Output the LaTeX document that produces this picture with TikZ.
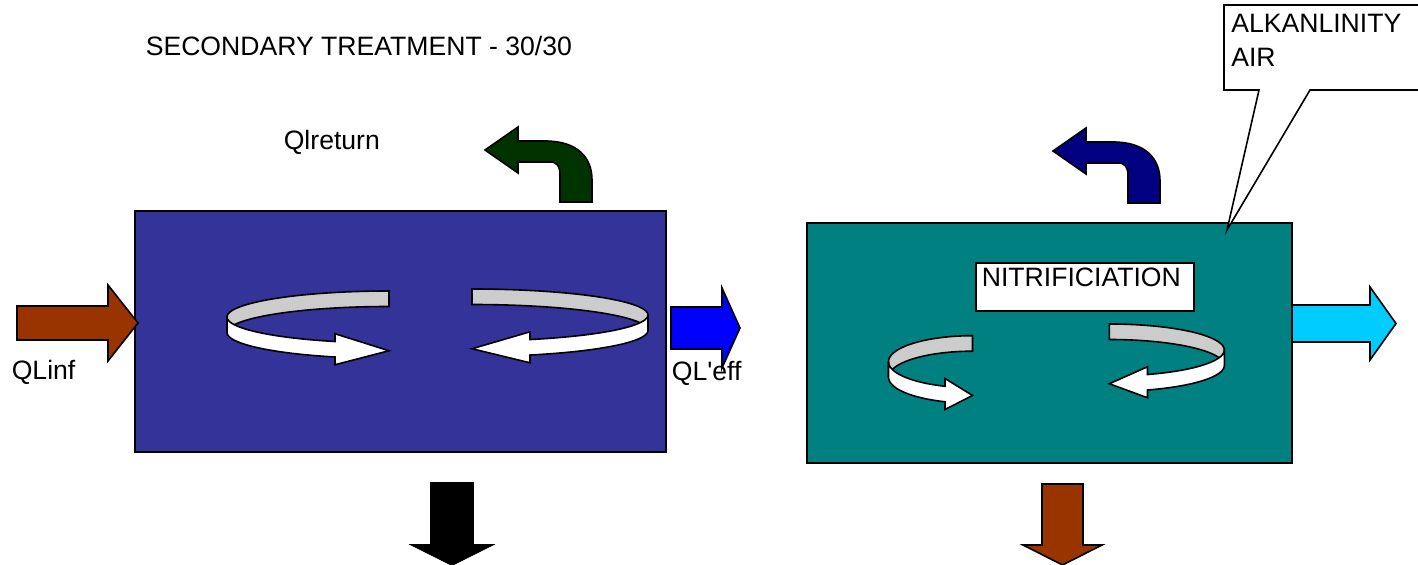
\documentclass[tikz,border=0pt]{standalone}
\usepackage{fontspec}
\setmainfont{Liberation Sans}
% same face without TeX input ligatures, so ' stays a straight quote
\newfontfamily\plainsans{Liberation Sans}

\definecolor{tankblue}{HTML}{333399}
\definecolor{tankteal}{HTML}{008080}
\definecolor{rust}{HTML}{993300}
\definecolor{darkgreen}{HTML}{003300}
\definecolor{navyblue}{HTML}{000080}
\definecolor{flowblue}{HTML}{0000FF}
\definecolor{flowcyan}{HTML}{00CCFF}
\definecolor{ribbongray}{HTML}{CCCCCC}

% ribbon geometry shared by all mixing swirls
\def\swB{26}      % half height of the ellipse
\def\swH{15.5}    % ribbon width
\def\swHead{15.5} % half height of the arrow head

% mixing swirl: #1 centre x, #2 centre y (top edge), #3 half width,
% #4 side (-1 turns round the left, +1 round the right), #5 x of the head base
\newcommand\swirlband[5]{%
  \pgfmathsetmacro\swCx{#1}%
  \pgfmathsetmacro\swCy{#2}%
  \pgfmathsetmacro\swA{#3}%
  \pgfmathsetmacro\swS{#4}%
  \pgfmathsetmacro\swXh{#5}%
  \pgfmathsetmacro\swUh{180-asin((\swXh-\swCx)/(\swS*\swA))}%
  \pgfmathsetmacro\swYh{\swCy-\swB*cos(\swUh)}%
  \filldraw[ribbonback]
    plot[domain=0:90, samples=40] ({\swCx+\swS*\swA*sin(\x)}, {\swCy-\swB*cos(\x)})
    -- plot[domain=90:0, samples=40] ({\swCx+\swS*\swA*sin(\x)}, {\swCy-\swB*cos(\x)+\swH})
    -- cycle;
  \filldraw[ribbonfront]
    plot[domain=90:\swUh, samples=30] ({\swCx+\swS*\swA*sin(\x)}, {\swCy-\swB*cos(\x)})
    -- (\swXh, {\swYh+\swH/2-\swHead})
    -- (\swCx, {\swCy+\swB+\swH/2})
    -- (\swXh, {\swYh+\swH/2+\swHead})
    -- plot[domain=\swUh:90, samples=30] ({\swCx+\swS*\swA*sin(\x)}, {\swCy-\swB*cos(\x)+\swH})
    -- cycle;
}

% bent return arrow: #1 fill colour, #2 shift
\newcommand\returnarrow[2]{%
  \filldraw[blockarrow, fill=#1, shift={#2}]
    (485,150) -- (518,127) -- (518,141) -- (545,141)
    .. controls (578,141) and (592,158) .. (592,180)
    -- (592,202) -- (560,202) -- (560,175)
    .. controls (560,166) and (557,162) .. (550,162)
    -- (518,162) -- (518,173) -- cycle;
}

\begin{document}
\begin{tikzpicture}[x=0.5pt, y=-0.5pt, line width=0.8pt, line join=miter,
  lbl/.style={font=\plainsans\fontsize{13.3}{17.5}\selectfont, inner sep=0pt, anchor=base west},
  tank/.style={draw=black, rectangle, anchor=north west, inner sep=0pt},
  blockarrow/.style={draw=black},
  ribbonback/.style={draw=black, fill=ribbongray},
  ribbonfront/.style={draw=black, fill=white}]

\useasboundingbox (0,0) rectangle (1418,565);
\clip (0,0) rectangle (1418,565);

% title
\node[lbl] (title) at (145,56) {SECONDARY TREATMENT - 30/30};

% tanks
\node[tank, fill=tankblue, minimum width=265.5pt, minimum height=120.5pt] (tankA) at (134,210) {};
\node[tank, fill=tankteal, minimum width=242.5pt, minimum height=120pt] (tankB) at (806,222) {};

% inflow
\filldraw[blockarrow, fill=rust] (17,306) -- (108,306) -- (108,285) -- (138,323)
  -- (108,361) -- (108,340) -- (17,340) -- cycle;
\node[lbl] (qlinf) at (11,380) {QLinf};

% intermediate effluent
\filldraw[blockarrow, fill=flowblue] (671,307) -- (722,307) -- (722,288) -- (740,328)
  -- (722,368) -- (722,349) -- (671,349) -- cycle;
\node[lbl] (qleff) at (671,381) {QL'eff};

% final effluent
\filldraw[blockarrow, fill=flowcyan] (1292,305) -- (1370,305) -- (1370,287) -- (1396,323.5)
  -- (1370,360) -- (1370,342) -- (1292,342) -- cycle;

% sludge draw-off arrows
\filldraw[blockarrow, fill=black] (431,483) -- (473,483) -- (473,545) -- (492,545)
  -- (452,565) -- (412,545) -- (431,545) -- cycle;
\filldraw[blockarrow, fill=rust] (1042,484) -- (1083,484) -- (1083,545) -- (1102,545)
  -- (1062.5,565) -- (1023,545) -- (1042,545) -- cycle;

% return flows
\returnarrow{darkgreen}{(0,0)}
\returnarrow{navyblue}{(568,1)}
\node[lbl] (qlreturn) at (283,150) {Qlreturn};

% mixing swirls
\swirlband{389}{317}{162}{-1}{335}
\swirlband{472}{315}{176}{1}{530}
\swirlband{972.5}{361.7}{84}{-1}{945}
\swirlband{1109.3}{350}{115}{1}{1147.5}

% process label
\node[draw=black, fill=white, rectangle, anchor=north west, inner sep=0pt,
      minimum width=109pt, minimum height=24pt] (nitribox) at (975,262) {};
\node[lbl] (nitri) at (981,287) {NITRIFICIATION};

% callout
\filldraw[draw=black, fill=white] (1224,5) -- (1430,5) -- (1430,90) -- (1310,90)
  -- (1227,230) -- (1259,90) -- (1224,90) -- cycle;
\node[lbl] (alk) at (1230.5,32.5) {ALKANLINITY};
\node[lbl] (air) at (1230.5,67) {AIR};

\end{tikzpicture}
\end{document}
